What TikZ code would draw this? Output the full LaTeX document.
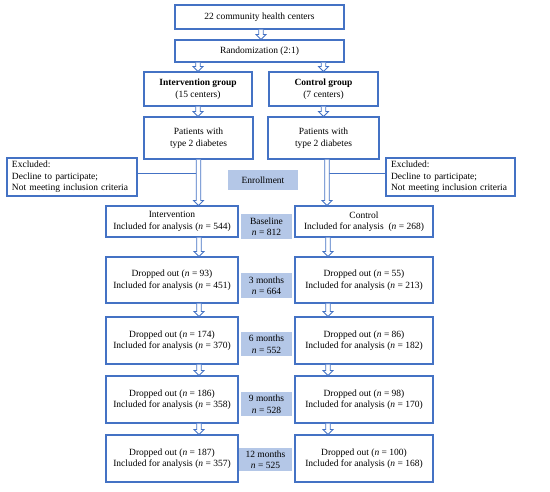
\documentclass[tikz,border=0pt]{standalone}
\usepackage{fontspec}
\setmainfont{Liberation Serif}
\usetikzlibrary{calc}
\definecolor{azul}{RGB}{68, 114, 196}
\definecolor{azulclaro}{RGB}{180, 199, 231}

\begin{document}
\begin{tikzpicture}[
    x=1pt, y=-1pt,
    font=\fontsize{9.5}{11.5}\selectfont,
    caixa/.style={
        draw=azul,
        line width=1.1pt,
        align=center,
        inner sep=2pt
    },
    rotulo/.style={
        fill=azulclaro,
        align=center,
        inner sep=1pt
    },
    seta/.style={
        draw=azul,
        line width=0.8pt,
        fill=white,
        to path={
            ($(\tikztostart)+(-2.3,0)$) -- ($(\tikztotarget)+(-2.3,-5)$)
            -- ($(\tikztotarget)+(-5,-5)$) -- (\tikztotarget)
            -- ($(\tikztotarget)+(5,-5)$) -- ($(\tikztotarget)+(2.3,-5)$)
            -- ($(\tikztostart)+(2.3,0)$)
        }
    },
    linha/.style={
        draw=azul,
        line width=1pt
    }
]
\useasboundingbox (0,0) rectangle (550,491);

% topo
\node[caixa, minimum width=169pt, minimum height=24pt] (centros) at (259.5,17)
{22 community health centers};
\node[caixa, minimum width=169pt, minimum height=22pt] (random) at (259.5,51)
{Randomization (2:1)};

% grupos
\node[caixa, minimum width=108pt, minimum height=34pt] (intgrupo) at (198,89)
{\textbf{Intervention group}\\(15 centers)};
\node[caixa, minimum width=109pt, minimum height=34pt] (ctrlgrupo) at (323.5,89)
{\textbf{Control group}\\(7 centers)};

\node[caixa, minimum width=109pt, minimum height=42pt] (intpac) at (198.5,138)
{Patients with\\type 2 diabetes};
\node[caixa, minimum width=111pt, minimum height=42pt] (ctrlpac) at (323.5,138)
{Patients with\\type 2 diabetes};

% excluidos
\node[caixa, align=left, minimum width=130pt, minimum height=38pt,
      text width=120pt] (exclesq) at (72,177)
{Excluded:\\Decline to participate;\\Not meeting inclusion criteria};
\node[caixa, align=left, minimum width=129pt, minimum height=38pt,
      text width=119pt] (excldir) at (450.5,177)
{Excluded:\\Decline to participate;\\Not meeting inclusion criteria};

\node[rotulo, minimum width=70pt, minimum height=20pt] (inscricao) at (263,180)
{Enrollment};

% linha de base
\node[caixa, minimum width=132pt, minimum height=31pt] (int0) at (172,221.5)
{Intervention\\Included for analysis (\textit{n} = 544)};
\node[caixa, minimum width=138pt, minimum height=31pt] (ctrl0) at (364,221.5)
{Control\\Included for analysis~~(\textit{n} = 268)};
\node[rotulo, minimum width=51pt, minimum height=25pt] (base) at (266.5,226.5)
{Baseline\\\textit{n} = 812};

% acompanhamento
\node[caixa, minimum width=132pt, minimum height=46pt] (int3) at (172,280)
{Dropped out (\textit{n} = 93)\\Included for analysis (\textit{n} = 451)};
\node[caixa, minimum width=138pt, minimum height=46pt] (ctrl3) at (364,280)
{Dropped out (\textit{n} = 55)\\Included for analysis (\textit{n} = 213)};
\node[rotulo, minimum width=51pt, minimum height=25pt] (mes3) at (266.5,285.5)
{3 months\\\textit{n} = 664};

\node[caixa, minimum width=132pt, minimum height=47pt] (int6) at (172,340.5)
{Dropped out (\textit{n} = 174)\\Included for analysis (\textit{n} = 370)};
\node[caixa, minimum width=138pt, minimum height=47pt] (ctrl6) at (364,340.5)
{Dropped out (\textit{n} = 86)\\Included for analysis (\textit{n} = 182)};
\node[rotulo, minimum width=51pt, minimum height=24pt] (mes6) at (266.5,344)
{6 months\\\textit{n} = 552};

\node[caixa, minimum width=132pt, minimum height=47pt] (int9) at (172,399.5)
{Dropped out (\textit{n} = 186)\\Included for analysis (\textit{n} = 358)};
\node[caixa, minimum width=138pt, minimum height=47pt] (ctrl9) at (364,399.5)
{Dropped out (\textit{n} = 98)\\Included for analysis (\textit{n} = 170)};
\node[rotulo, minimum width=51pt, minimum height=24pt] (mes9) at (266.5,404)
{9 months\\\textit{n} = 528};

\node[caixa, minimum width=132pt, minimum height=47pt] (int12) at (172,458.5)
{Dropped out (\textit{n} = 187)\\Included for analysis (\textit{n} = 357)};
\node[caixa, minimum width=138pt, minimum height=47pt] (ctrl12) at (364,458.5)
{Dropped out (\textit{n} = 100)\\Included for analysis (\textit{n} = 168)};
\node[rotulo, minimum width=53pt, minimum height=23pt] (mes12) at (265.5,459.5)
{12 months\\\textit{n} = 525};

% ligacoes dos excluidos
\draw[linha] ([yshift=4pt]exclesq.east) -- ([yshift=4pt]exclesq.east -| intpac.south);
\draw[linha] ([yshift=4pt]excldir.west) -- ([yshift=4pt]excldir.west -| 327,0);

% setas
\draw[seta] (centros.south -| 261,0) to (random.north -| 261,0);
\draw[seta] (random.south -| intgrupo.north) to (intgrupo.north);
\draw[seta] (random.south -| ctrlgrupo.north) to (ctrlgrupo.north);
\draw[seta] (intgrupo.south) to (intpac.north -| intgrupo.south);
\draw[seta] (ctrlgrupo.south) to (ctrlpac.north -| ctrlgrupo.south);
\draw[seta] (intpac.south) to (int0.north -| intpac.south);
\draw[seta] (ctrlpac.south -| 327,0) to (ctrl0.north -| 327,0);
\draw[seta] (int0.south -| 199,0) to (int3.north -| 199,0);
\draw[seta] (ctrl0.south -| 328,0) to (ctrl3.north -| 328,0);
\draw[seta] (int3.south -| 199,0) to (int6.north -| 199,0);
\draw[seta] (ctrl3.south -| 328,0) to (ctrl6.north -| 328,0);
\draw[seta] (int6.south -| 199,0) to (int9.north -| 199,0);
\draw[seta] (ctrl6.south -| 328,0) to (ctrl9.north -| 328,0);
\draw[seta] (int9.south -| 199,0) to (int12.north -| 199,0);
\draw[seta] (ctrl9.south -| 328,0) to (ctrl12.north -| 328,0);

\end{tikzpicture}
\end{document}
